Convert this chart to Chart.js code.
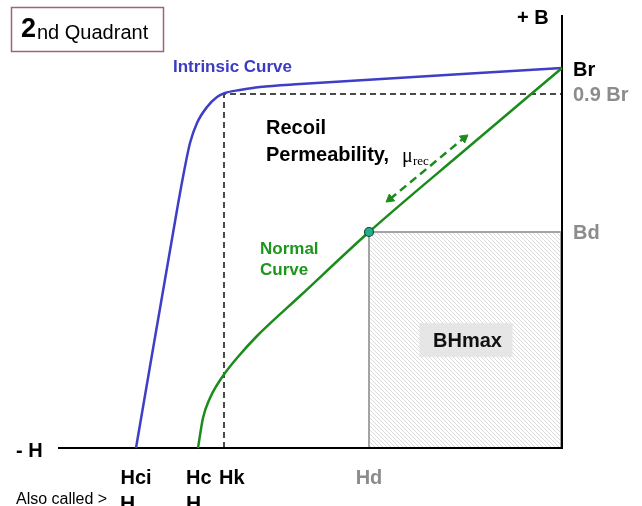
<!DOCTYPE html>
<html>
<head>
<meta charset="utf-8">
<script src="https://cdn.jsdelivr.net/npm/chart.js@4/dist/chart.umd.min.js"></script>
<style>
  html, body { margin: 0; padding: 0; background: #fff; }
  #wrap { width: 642px; height: 506px; }
</style>
</head>
<body>
<div id="wrap"><canvas id="quadChart" width="642" height="506"></canvas></div>
<script>
// H (x) and B (y) in plot units, origin where the H and B axes cross
const intrinsicH = [-426, -385, -379, -372, -365, -355, -345, -337, -322, -302, -262, 0];
const intrinsicB = [0, 238, 271, 305, 325, 341, 351, 355, 358, 361, 364, 380];
const normalH = [-364, -359, -352, -345, -337, -325, -305, -262, -193, -97, 0];
const normalB = [0, 30, 50, 63, 75, 90, 112, 152, 216, 298, 380];

const Br = 380, Br90 = 354, Bd = 216, Bmax = 433;
const Hci = -426, Hc = -364, Hk = -338, Hd = -193, Hmin = -504;
const recoilH = [-172, -98];
const recoilB = [249, 310];

function pts(xs, ys) {
    return xs.map((x, i) => ({ x: x, y: ys[i] }));
}

function hatch() {
    const c = document.createElement("canvas");
    c.width = 4; c.height = 4;
    const g = c.getContext("2d");
    g.fillStyle = "#ffffff";
    g.fillRect(0, 0, 4, 4);
    g.strokeStyle = "#dadada";
    g.lineWidth = 1;
    g.beginPath();
    g.moveTo(-1, -1); g.lineTo(5, 5);
    g.moveTo(-1, 3); g.lineTo(1, 5);
    g.moveTo(3, -1); g.lineTo(5, 1);
    g.stroke();
    return g.createPattern(c, "repeat");
}

const labelsPlugin = {
    id: "labels",
    afterDatasetsDraw(chart) {
        const ctx = chart.ctx;
        const xs = chart.scales.x, ys = chart.scales.y;
        const px = v => xs.getPixelForValue(v);
        const py = v => ys.getPixelForValue(v);
        const F = "'Liberation Sans', Arial, sans-serif";
        ctx.save();
        ctx.textBaseline = "middle";

        // title box
        ctx.strokeStyle = "#a0607f";
        ctx.lineWidth = 1.5;
        ctx.strokeRect(11.5, 7.5, 152, 44);
        ctx.fillStyle = "#000";
        ctx.textAlign = "left";
        ctx.font = "bold 27px " + F;
        ctx.fillText("2", 21, 30);
        ctx.font = "20px " + F;
        ctx.fillText("nd Quadrant", 37, 33);

        // BHmax label
        const cx = (px(Hd) + px(0)) / 2, cy = py(Bd / 2);
        ctx.fillStyle = "#e6e6e6";
        ctx.fillRect(cx - 46, cy - 17, 93, 34);
        ctx.fillStyle = "#111";
        ctx.textAlign = "center";
        ctx.font = "bold 20px " + F;
        ctx.fillText("BHmax", cx + 2, cy + 1);

        // curve labels
        ctx.textAlign = "left";
        ctx.fillStyle = "#3b3bc4";
        ctx.font = "bold 17px " + F;
        ctx.fillText("Intrinsic Curve", 173, 67);
        ctx.fillStyle = "#1c961c";
        ctx.fillText("Normal", 260, 249);
        ctx.fillText("Curve", 260, 270);

        ctx.fillStyle = "#000";
        ctx.font = "bold 20px " + F;
        ctx.fillText("Recoil", 266, 128);
        ctx.fillText("Permeability,", 266, 155);
        ctx.font = "20px 'Liberation Serif', serif";
        ctx.fillText("\u03bc", 402, 157);
        ctx.font = "13px 'Liberation Serif', serif";
        ctx.fillText("rec", 413, 162);

        // axis labels
        ctx.font = "bold 20px " + F;
        ctx.fillStyle = "#000";
        ctx.fillText("+ B", 517, 18);
        ctx.fillText("- H", 16, 451);
        ctx.fillText("Br", px(0) + 11, py(Br) + 2);
        ctx.fillStyle = "#8c8c8c";
        ctx.fillText("0.9 Br", px(0) + 11, py(Br90) + 1);
        ctx.fillText("Bd", px(0) + 11, py(Bd) + 1);

        const tickY = py(0) + 30;
        ctx.textAlign = "center";
        ctx.fillText("Hd", px(Hd), tickY);
        ctx.fillStyle = "#000";
        ctx.fillText("Hci", px(Hci), tickY);
        ctx.textAlign = "left";
        ctx.fillText("Hc", px(Hc) - 12, tickY);
        ctx.fillText("Hk", px(Hk) - 5, tickY);

        // bottom note (cut off by the frame)
        ctx.font = "16px " + F;
        ctx.fillText("Also called >", 16, 500);
        ctx.font = "bold 21px " + F;
        ctx.fillText("H", 120, 504);
        ctx.fillText("H", 186, 504);
        ctx.font = "bold 13px " + F;
        ctx.fillText("cJ", 137, 511);
        ctx.fillText("cB", 203, 511);
        ctx.restore();
    }
};

const dashed = "#4a4a4a";
// higher "order" is drawn first (further back)
const datasets = [
    {   // BHmax rectangle
        order: 10,
        data: [{ x: Hd, y: 0 }, { x: Hd, y: Bd }, { x: -1, y: Bd }, { x: -1, y: 0 }],
        borderColor: "#a4a4a4", borderWidth: 2, fill: "origin",
        backgroundColor: hatch(), pointRadius: 0, tension: 0
    },
    {   // 0.9 Br / Hk guide
        order: 9,
        data: [{ x: Hk, y: 0 }, { x: Hk, y: Br90 }, { x: 0, y: Br90 }],
        borderColor: dashed, borderWidth: 2, borderDash: [6, 4],
        pointRadius: 0, tension: 0
    },
    {   // axes
        order: 8,
        data: [{ x: Hmin, y: 0 }, { x: 0, y: 0 }, { x: 0, y: Bmax }],
        borderColor: "#000", borderWidth: 2, pointRadius: 0, tension: 0
    },
    {
        order: 5,
        label: "Intrinsic Curve",
        data: pts(intrinsicH, intrinsicB),
        borderColor: "#3e3ec6", borderWidth: 2.5, pointRadius: 0,
        cubicInterpolationMode: "monotone"
    },
    {
        order: 4,
        label: "Normal Curve",
        data: pts(normalH, normalB),
        borderColor: "#1b8c1b", borderWidth: 2.5, pointRadius: 0,
        cubicInterpolationMode: "monotone"
    },
    {   // recoil arrow
        order: 2,
        data: pts(recoilH, recoilB),
        borderColor: "#1b8c1b", borderWidth: 2.5, borderDash: [8, 5],
        pointStyle: "triangle", pointRadius: 5,
        pointRotation: [232, 52],
        pointBackgroundColor: "#1b8c1b", pointBorderColor: "#1b8c1b",
        pointBorderWidth: 1, tension: 0
    },
    {   // operating point
        order: 0,
        data: [{ x: Hd, y: Bd }],
        pointRadius: 4.5, pointBackgroundColor: "#22b08c",
        pointBorderColor: "#0d4d3a", pointBorderWidth: 1.2, showLine: false
    }
];

new Chart(document.getElementById("quadChart"), {
    type: "scatter",
    data: { datasets: datasets.map(d => Object.assign({ showLine: true, clip: false, fill: false }, d)) },
    options: {
        responsive: false,
        animation: false,
        layout: { padding: { left: 58, right: 80, top: 15, bottom: 58 } },
        scales: {
            x: { type: "linear", min: Hmin, max: 0, display: false },
            y: { type: "linear", min: 0, max: Bmax, display: false }
        },
        plugins: { legend: { display: false }, tooltip: { enabled: false } }
    },
    plugins: [labelsPlugin]
});
</script>
</body>
</html>
